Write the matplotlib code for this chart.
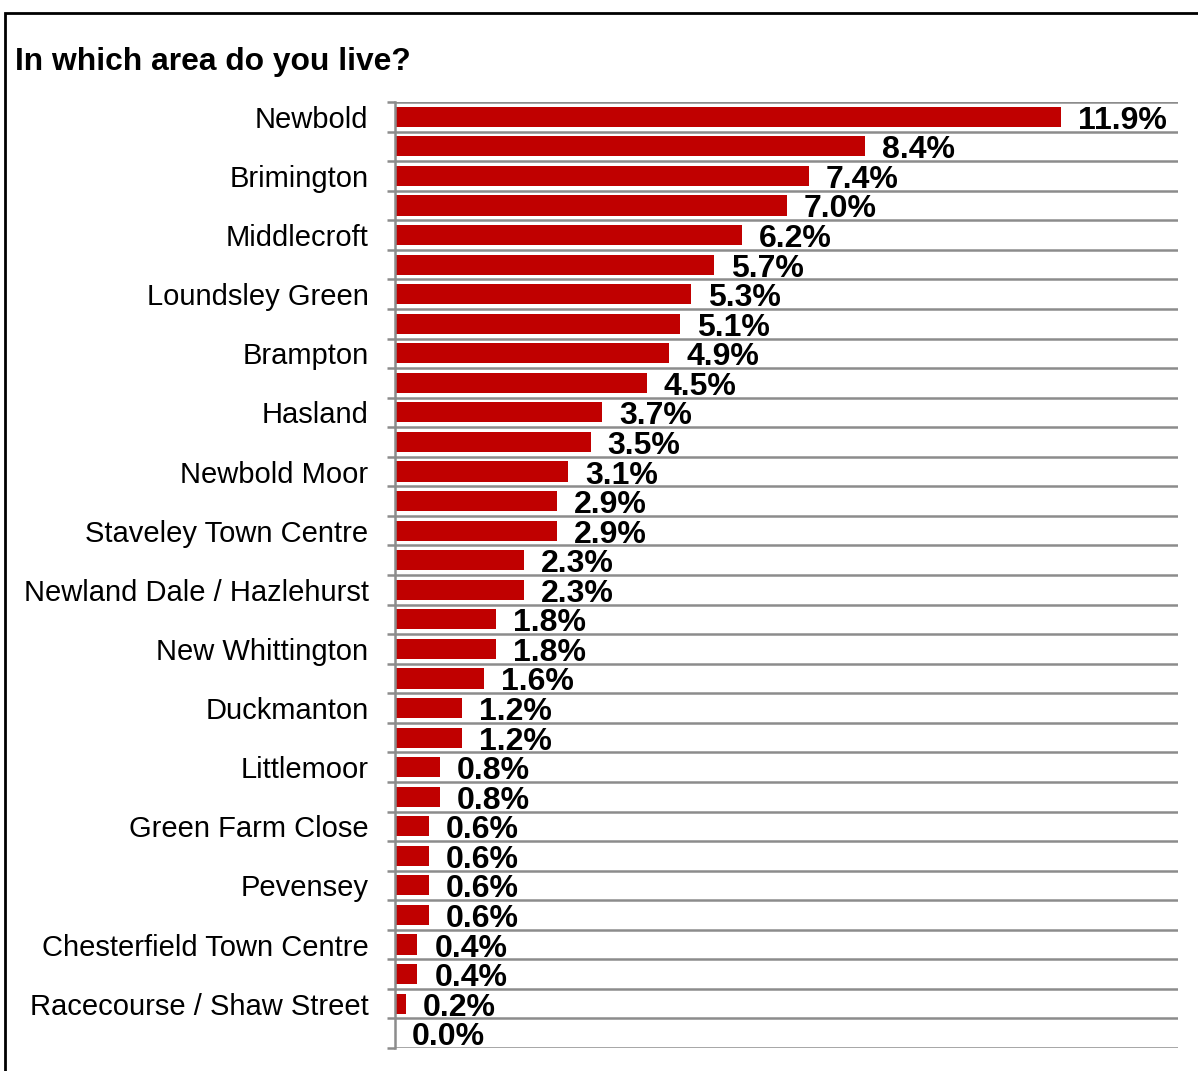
import matplotlib.pyplot as plt
import matplotlib.patches as patches
import numpy as np

# every other area name is not printed on the chart, so those are left blank
areas = ['Newbold', '', 'Brimington', '', 'Middlecroft', '', 'Loundsley Green', '',
         'Brampton', '', 'Hasland', '', 'Newbold Moor', '', 'Staveley Town Centre', '',
         'Newland Dale / Hazlehurst', '', 'New Whittington', '', 'Duckmanton', '',
         'Littlemoor', '', 'Green Farm Close', '', 'Pevensey', '',
         'Chesterfield Town Centre', '', 'Racecourse / Shaw Street', '']
shares = [11.9, 8.4, 7.4, 7.0, 6.2, 5.7, 5.3, 5.1, 4.9, 4.5, 3.7, 3.5, 3.1, 2.9, 2.9, 2.3,
          2.3, 1.8, 1.8, 1.6, 1.2, 1.2, 0.8, 0.8, 0.6, 0.6, 0.6, 0.6, 0.4, 0.4, 0.2, 0.0]

plt.rcParams['font.family'] = ['Liberation Sans', 'DejaVu Sans']

fig = plt.figure(figsize=(11.98, 10.71), dpi=100)
ax = fig.add_axes([395 / 1198, 1 - 1048 / 1071, 783 / 1198, 946 / 1071])

y = np.arange(len(shares))
ax.barh(y, shares, height=0.68, color='#C00000')
for yi, v in zip(y, shares):
    ax.annotate(f'{v:.1f}%', xy=(v, yi), xytext=(17, -4), textcoords='offset pixels',
                ha='left', va='center', fontsize=23, fontweight='bold')

ax.set_xlim(0, 14)
ax.set_ylim(len(shares) - 0.5, -0.5)
ax.set_xticks([])

# labels at row centres, grid lines at row boundaries
ax.set_yticks(y[::2])
ax.set_yticklabels(areas[::2], fontsize=21)
ax.tick_params(axis='y', which='major', length=0, pad=19)
ax.set_yticks(np.arange(len(shares) + 1) - 0.5, minor=True)
ax.tick_params(axis='y', which='minor', length=6, width=1.8, color='#8c8c8c')
ax.grid(axis='y', which='minor', color='#8c8c8c', lw=1.8)
ax.set_axisbelow(True)

for s in ['top', 'right', 'bottom']:
    ax.spines[s].set_visible(False)
ax.spines['left'].set_color('#8c8c8c')
ax.spines['left'].set_linewidth(1.8)

fig.text(15 / 1198, 1 - 62 / 1071, 'In which area do you live?', ha='left', va='center',
         fontsize=22.9, fontweight='bold')

# outer frame
fig.add_artist(patches.Rectangle((5 / 1198, -0.05), 1.1, 1 - 13 / 1071 + 0.05,
                                 transform=fig.transFigure, fill=False, lw=2,
                                 edgecolor='black', clip_on=False))

fig.savefig('out.png', dpi=100)
